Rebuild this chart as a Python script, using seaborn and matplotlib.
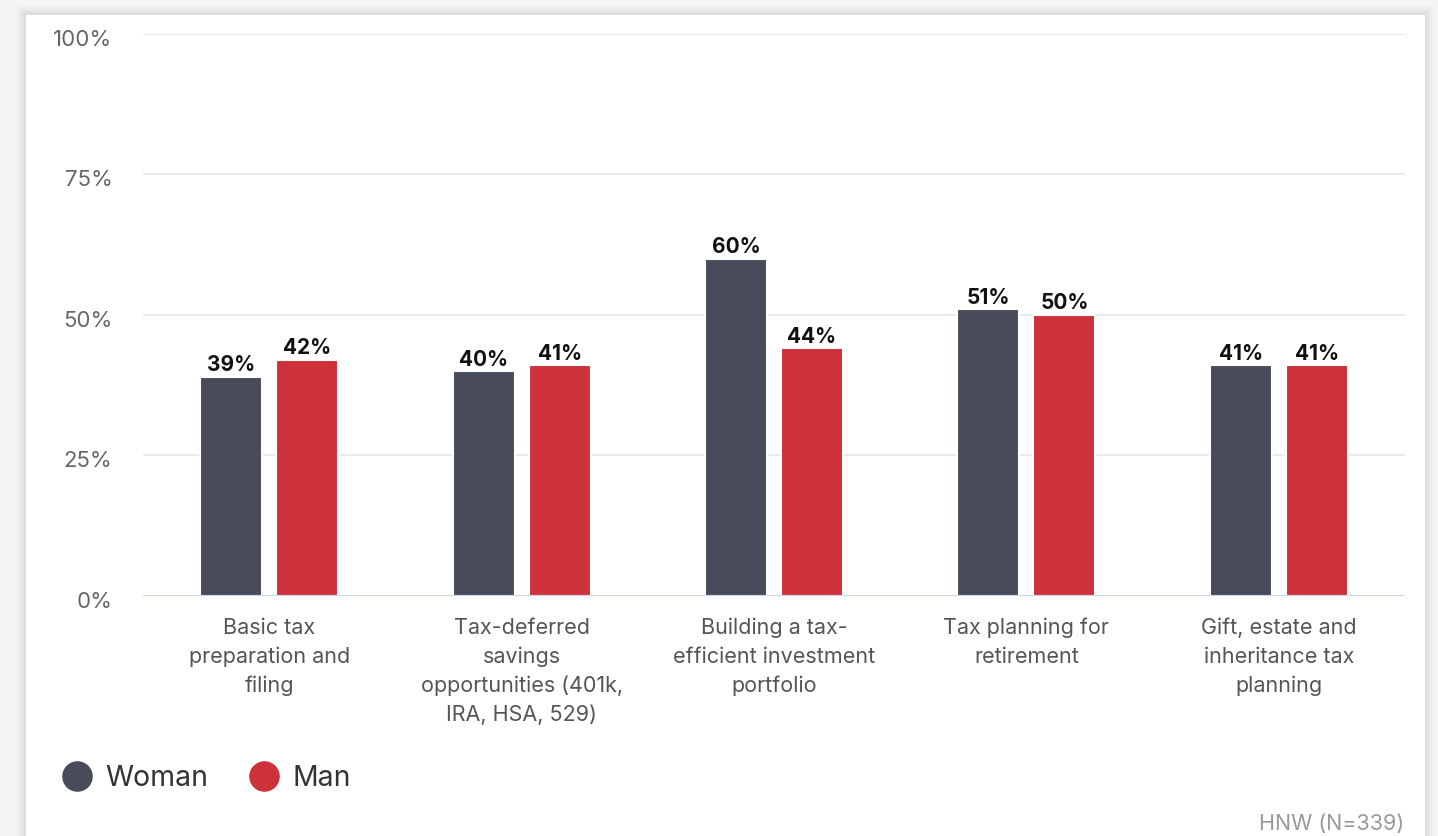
import matplotlib
matplotlib.use("Agg")
import matplotlib.pyplot as plt
from matplotlib.patches import Rectangle
from matplotlib.lines import Line2D
from matplotlib.transforms import ScaledTranslation
import seaborn as sns
import pandas as pd

# ---- data -------------------------------------------------------------
categories = [
    "Basic tax\npreparation and\nfiling",
    "Tax-deferred\nsavings\nopportunities (401k,\nIRA, HSA, 529)",
    "Building a tax-\nefficient investment\nportfolio",
    "Tax planning for\nretirement",
    "Gift, estate and\ninheritance tax\nplanning",
]
groups = ["Woman", "Man"]
woman = [39, 40, 60, 51, 41]
man = [42, 41, 44, 50, 41]
y_ticks = [0, 25, 50, 75, 100]
y_tick_labels = ["0%", "25%", "50%", "75%", "100%"]
footnote = "HNW (N=339)"

colors = {"Woman": "#474b5a", "Man": "#cd323b"}

df = pd.DataFrame({
    "category": categories * 2,
    "group": ["Woman"] * len(categories) + ["Man"] * len(categories),
    "share": woman + man,
})

# ---- figure & card ----------------------------------------------------
sns.set_theme(style="white")
plt.rcParams["font.family"] = ["Inter", "DejaVu Sans"]

W, H = 1438, 836
fig = plt.figure(figsize=(W / 100, H / 100), dpi=100)
fig.patch.set_facecolor("#f5f5f5")

cx0, cx1, ctop = 26, 1425, 15
# soft shadow around the card
for i, a in enumerate([0.012, 0.015, 0.018, 0.022, 0.026]):
    g = 10 - 2 * i
    fig.patches.append(Rectangle(((cx0 - g) / W, -0.05), (cx1 - cx0 + 2 * g) / W,
                                 (H - ctop + g) / H + 0.05, transform=fig.transFigure,
                                 facecolor="black", alpha=a, edgecolor="none", zorder=-3))
fig.patches.append(Rectangle((cx0 / W, -0.05), (cx1 - cx0) / W, (H - ctop) / H + 0.05,
                             transform=fig.transFigure, facecolor="white",
                             edgecolor="none", zorder=-2))

ax_left, ax_right = 143, 1405
ax_top, ax_bottom = 34, 595.5
ax = fig.add_axes([ax_left / W, (H - ax_bottom) / H, (ax_right - ax_left) / W,
                   (ax_bottom - ax_top) / H])
ax.set_facecolor("none")

sns.barplot(data=df, x="category", y="share", hue="group", hue_order=groups,
            palette=colors, width=0.602, gap=0.184, edgecolor="white",
            linewidth=1.5, saturation=1, ax=ax, legend=False, zorder=2)

# value labels
for cont in ax.containers:
    ax.bar_label(cont, labels=[f"{v:.0f}%" for v in cont.datavalues],
                 padding=1, fontsize=15, fontweight="bold", color="#111111")

# axes styling
ax.set_ylim(0, 100)
ax.set_xlim(-0.5, len(categories) - 0.5)
ax.set_yticks(y_ticks)
ax.set_yticklabels(y_tick_labels)
ax.yaxis.grid(True, color="#e6e6e6", linewidth=1.2, zorder=0)
ax.set_axisbelow(True)
for s in ["left", "right", "top", "bottom"]:
    ax.spines[s].set_visible(False)
ax.axhline(0, color="#ccd6eb", linewidth=1.5, zorder=5)
ax.set_xlabel("")
ax.set_ylabel("")
ax.tick_params(axis="y", length=0, pad=22, labelsize=16, labelcolor="#666666")
ax.tick_params(axis="x", length=0, pad=16, labelsize=15.5, labelcolor="#555555")
for lab in ax.get_xticklabels():
    lab.set_linespacing(1.52)
    lab.set_va("top")
off = ScaledTranslation(0, -4 / 100, fig.dpi_scale_trans)
for lab in ax.get_yticklabels():
    lab.set_transform(lab.get_transform() + off)

# legend
handles = [Line2D([], [], linestyle="none", marker="o", markersize=21,
                  markerfacecolor=colors[g], markeredgecolor=colors[g]) for g in groups]
fig.legend(handles, groups, loc="center left",
           bbox_to_anchor=(63 / W, (H - 778) / H), ncol=2, frameon=False,
           fontsize=20.5, handlelength=1.0, handletextpad=0.5,
           columnspacing=1.45, borderpad=0, borderaxespad=0, labelcolor="#333333")

fig.text(1404 / W, (H - 824) / H, footnote, ha="right", va="center",
         fontsize=15.5, color="#999999")

fig.savefig("out.png", dpi=100, facecolor=fig.get_facecolor())
